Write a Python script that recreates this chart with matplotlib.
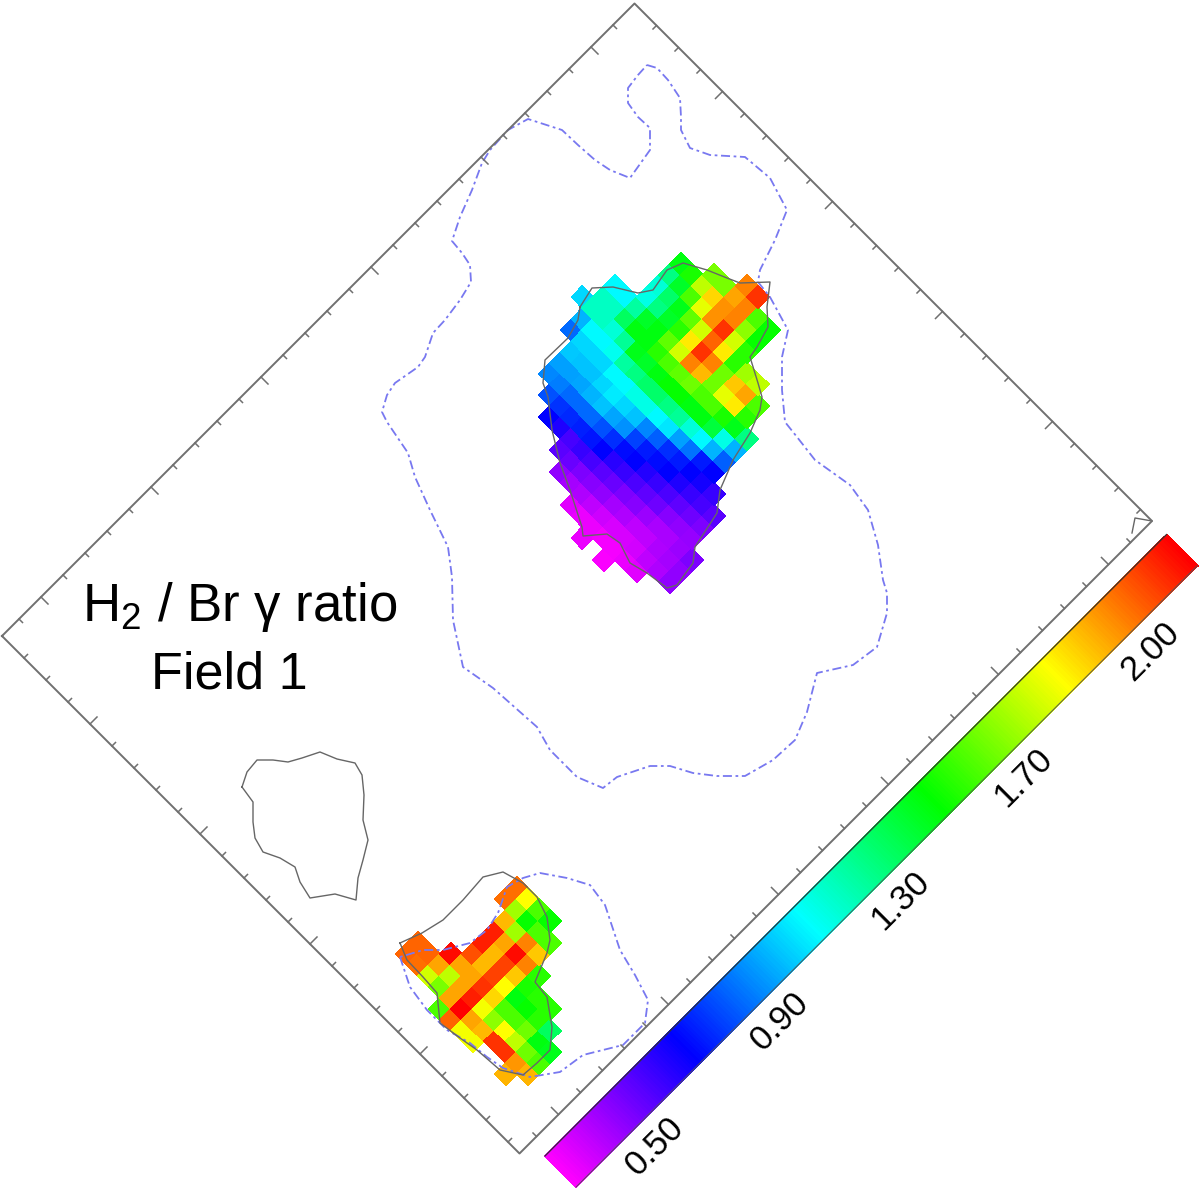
import numpy as np
import matplotlib
matplotlib.use('Agg')
import matplotlib.pyplot as plt
from matplotlib.colors import LinearSegmentedColormap, Normalize
from matplotlib.transforms import Affine2D

plt.rcParams['font.family'] = ['Liberation Sans', 'DejaVu Sans']
plt.rcParams['mathtext.fontset'] = 'custom'
plt.rcParams['mathtext.rm'] = 'Liberation Sans'

nan = np.nan

# ratio map, upper region: one list per column j, first row in main_first
main_cols = list(range(-17, 3))
main_first = [8, 6, 4, 3, 1, 0, -1, -1, -1, -2, -2, -3, -2, -2, 0, 0, 0, 0, 2, 4]
main_values = [
    [.33, nan, .31],
    [.35, .33, .33, .32, .32, .33, .35],
    [.47, .44, .42, .40, .38, .36, .36, .37, .40, .42, .47],
    [.55, .53, .50, .48, .47, .44, .42, .40, .40, .42, .44, .47],
    [.68, .64, .58, .60, .58, .55, .53, .50, .48, .45, .43, .43, .45, .50],
    [.80, .76, .74, .73, .71, .68, .62, .60, .57, .54, .52, .48, .47, .46],
    [.88, .87, .84, .84, .84, .80, .75, .70, .68, .63, .60, .57, .54, .52, .50],
    [.92, .92, .93, .95, .97, .93, .90, .78, .72, .70, .68, .64, .60, .58, .55],
    [.98, .97, .97, 1.0, 1.03, 1.0, .97, .88, .82, .75, .72, .68, .65, .60],
    [.84, 1.0, 1.0, 1.0, 1.05, 1.05, 1.10, 1.10, 1.05, 1.02, .92, .85, .72, .68],
    [.95, 1.05, 1.05, 1.08, 1.20, 1.25, 1.28, 1.28, 1.25, 1.22, 1.12, 1.05, .95, .82],
    [1.0, 1.15, 1.15, 1.12, 1.22, 1.40, 1.38, 1.42, 1.45, 1.45, 1.42, 1.42, 1.35, 1.10, .95],
    [1.15, 1.15, 1.30, 1.42, 1.42, 1.50, 1.55, 1.58, 1.60, 1.55, 1.55, 1.48, 1.40, 1.25],
    [1.05, 1.05, 1.20, 1.38, 1.42, 1.58, 1.75, 2.0, 1.92, 1.60, 1.78, 1.85, 1.50],
    [1.10, 1.25, 1.38, 1.50, 1.85, 2.12, 2.0, 1.60, 1.90, 1.95, 1.55],
    [1.12, 1.28, 1.40, 1.58, 1.75, 2.05, 1.85, 1.50, 1.68, 1.72],
    [1.25, 1.38, 1.55, 1.78, 1.98, 2.12, 1.75, 1.50],
    [1.42, 1.48, 1.72, 1.88, 1.98, 2.0, 1.65, 1.45],
    [1.62, 1.62, 1.95, 2.0, 1.55, 1.45],
    [2.0, 2.12],
]

# ratio map, lower region
low_cols = list(range(-45, -35))
low_first = [23, 19, 19, 21, 22, 22, 22, 22, 21, 21]
low_values = [
    [1.55, 2.05, 1.80, 1.80, nan, nan, 1.93],
    [2.05, 2.03, 1.75, 1.62, 1.95, 2.20, 1.95, 1.92, 2.12, 2.12, 1.97, 1.93],
    [2.05, 2.05, 1.95, 1.72, 1.95, 2.15, 1.80, 1.65, 1.82, 1.72, 1.60, 1.55],
    [2.18, 1.95, 1.95, 2.12, 1.88, 1.55, 1.55, 1.60, 1.42, 1.40],
    [2.08, 1.92, 2.10, 1.82, 1.42, 1.45, 1.50, 1.30],
    [2.15, 1.92, 2.10, 1.90, 1.48, 1.50, 1.50],
    [2.15, 1.95, 2.18, 2.0, 1.50],
    [1.92, 1.68, 2.0, 1.90],
    [2.03, 1.68, 1.45, 1.55, 1.55],
    [2.03, 1.82, 1.55, 1.45],
]

# contours, map coordinates (u, v)
outer_u = [74, 87, 110, 140, 160, 173, 200, 227, 264, 310, 359, 377, 392, 402, 429, 480, 501, 534, 569, 596,
           637, 697, 740, 785, 825, 842, 862, 886, 880, 852, 881, 897, 895, 883, 855, 828, 798, 778, 756, 753,
           716, 662, 626, 543, 492, 435, 391, 357, 302, 254, 223, 171, 156, 144, 140, 147, 144, 128, 127, 122,
           115, 97, 77, 55, 39, 24, 7, 2, 0, 9, 54, 85, 117, 142, 170, 162, 140, 117, 93, 78, 75, 74]
outer_v = [1216, 1223, 1222, 1216, 1198, 1185, 1176, 1189, 1222, 1226, 1211, 1169, 1124, 1110, 1107, 1092, 1059,
           1026, 997, 994, 989, 999, 992, 967, 937, 928, 908, 864, 822, 778, 729, 689, 647, 603, 575, 554, 538,
           518, 474, 449, 434, 434, 444, 439, 430, 467, 509, 535, 554, 572, 589, 599, 604, 626, 646, 685, 702,
           734, 759, 794, 823, 839, 843, 845, 877, 916, 953, 974, 1012, 1043, 1066, 1067, 1069, 1074, 1086,
           1134, 1156, 1155, 1159, 1174, 1197, 1216]
lower_u = [719, 759, 799, 839, 875, 906, 933, 969, 994, 1000, 1015, 1030, 1030, 1010, 972, 932, 872, 837, 807,
           775, 763, 756, 773, 779, 775, 755, 735, 719]
lower_v = [77, 57, 51, 51, 61, 64, 69, 87, 122, 162, 187, 212, 256, 282, 294, 304, 334, 339, 323, 301, 279, 254,
           219, 191, 161, 127, 107, 77]
grey_main_u = [249, 242, 262, 293, 305, 299, 308, 339, 367, 385, 414, 436, 457, 466, 469, 503, 521, 532, 545,
               555, 572, 592, 604, 618, 624, 617, 582, 555, 525, 503, 481, 471, 422, 385, 344, 307, 288, 267,
               268, 260, 249]
grey_main_v = [907, 938, 960, 979, 997, 1031, 1054, 1071, 1083, 1091, 1122, 1094, 1075, 1044, 1027, 1009, 999,
               984, 951, 907, 864, 838, 782, 764, 726, 713, 708, 701, 711, 707, 681, 689, 714, 731, 756, 785,
               794, 819, 864, 892, 907]
grey_low_u = [705, 717, 725, 725, 722, 737, 768, 796, 826, 852, 862, 879, 906, 941, 962, 962, 960, 932, 889,
              860, 825, 792, 762, 729, 705]
grey_low_v = [91, 123, 157, 197, 240, 265, 274, 274, 264, 244, 228, 187, 184, 159, 134, 108, 82, 64, 61, 56, 51,
              78, 80, 81, 91]
grey_iso_u = [391, 381, 379, 395, 412, 422, 434, 458, 480, 499, 521, 545, 570, 585, 598, 618, 591, 570, 544,
              524, 500, 477, 455, 437, 417, 391]
grey_iso_v = [89, 109, 131, 147, 160, 178, 202, 212, 226, 221, 203, 177, 162, 137, 114, 90, 75, 46, 52, 62, 56,
              45, 51, 65, 85, 89]
grey_corner_u = [1027, 1015, 1035]
grey_corner_v = [1233, 1251, 1265]

cbar_labels = ['0.50', '0.90', '1.30', '1.70', '2.00']
cbar_fracs = [0.0965, 0.297, 0.492, 0.69, 0.893]

cmap = LinearSegmentedColormap.from_list('ratio', ['#ff00ff', '#0000ff', '#00ffff', '#00ff00', '#ffff00', '#ff0000'])
norm = Normalize(0.3, 2.2)

fig = plt.figure(figsize=(12, 11.96), dpi=100)
ax = fig.add_axes([0, 0, 1, 1])
ax.set_xlim(0, 1200)
ax.set_ylim(1196, 0)
ax.axis('off')

# sky frame is turned by 45 degrees on the page
map_tr = Affine2D.from_values(0.5, 0.5, 0.5, -0.5, 2, 636) + ax.transData

CELL = 21.9


def draw_cells(cols, first, values):
    rows = [f + k for f, v in zip(first, values) for k in range(len(v))]
    i0, i1 = min(rows), max(rows)
    grid = np.full((len(cols), i1 - i0 + 1), nan)
    for c, (f, v) in enumerate(zip(first, values)):
        grid[c, f - i0:f - i0 + len(v)] = v
    u_edges = 307 + CELL * (np.arange(i0, i1 + 2) - 0.5)
    v_edges = 1051 + CELL * (np.arange(cols[0], cols[-1] + 2) - 0.5)
    ax.pcolormesh(u_edges, v_edges, np.ma.masked_invalid(grid), cmap=cmap, norm=norm, shading='flat',
                  edgecolors='face', linewidth=0.3, transform=map_tr)


draw_cells(main_cols, main_first, main_values)
draw_cells(low_cols, low_first, low_values)

blue = '#7878f0'
ax.plot(outer_u, outer_v, color=blue, lw=1.3, ls=(0, (5, 2, 1.5, 2)), transform=map_tr)
ax.plot(lower_u, lower_v, color=blue, lw=1.3, ls=(0, (5, 2, 1.5, 2)), transform=map_tr)
for gu, gv in [(grey_main_u, grey_main_v), (grey_low_u, grey_low_v), (grey_iso_u, grey_iso_v),
               (grey_corner_u, grey_corner_v)]:
    ax.plot(gu, gv, color='#666666', lw=1.0, transform=map_tr)

# frame and inward ticks
U_MAX, V_MAX = 1035, 1265
frame = '#707070'
ax.plot([0, U_MAX, U_MAX, 0, 0], [0, 0, V_MAX, V_MAX, 0], color=frame, lw=1.4, transform=map_tr)
for t in np.arange(44, U_MAX, 44):
    n = 14 if (t - 176) % 220 == 0 else 7
    ax.plot([t, t], [0, n], color=frame, lw=1.1, transform=map_tr)
    ax.plot([t, t], [V_MAX, V_MAX - n], color=frame, lw=1.1, transform=map_tr)
for t in np.arange(34, V_MAX, 44):
    n = 14 if (t - 78) % 220 == 0 else 7
    ax.plot([0, n], [t, t], color=frame, lw=1.1, transform=map_tr)
    ax.plot([U_MAX, U_MAX - n], [t, t], color=frame, lw=1.1, transform=map_tr)

# colour bar
cb_u0, cb_u1, cb_v0, cb_v1 = 1063, 1125, 23, 1266
ramp = np.linspace(0, 1, 256)[:, None]
ax.pcolormesh([cb_u0, cb_u1], np.linspace(cb_v0, cb_v1, 257), ramp, cmap=cmap, vmin=0, vmax=1, shading='flat',
              edgecolors='face', linewidth=0.3, transform=map_tr)
ax.plot([cb_u0, cb_u0], [cb_v0, cb_v1], color='#333333', lw=0.9, transform=map_tr)
ax.plot([cb_u1, cb_u1], [cb_v0, cb_v1], color='#555555', lw=0.7, transform=map_tr)
for lab, fr in zip(cbar_labels, cbar_fracs):
    ax.text(1163, cb_v0 + fr * (cb_v1 - cb_v0), lab, fontsize=25, rotation=45, ha='center', va='center',
            rotation_mode='anchor', transform=map_tr, color='black')

ax.text(240, 607, 'H$_{\\mathrm{2}}$ / Br γ ratio', fontsize=38, ha='center', va='center', color='black')
ax.text(229, 675, 'Field 1', fontsize=37.5, ha='center', va='center', color='black')

fig.savefig('out.png', dpi=100)
